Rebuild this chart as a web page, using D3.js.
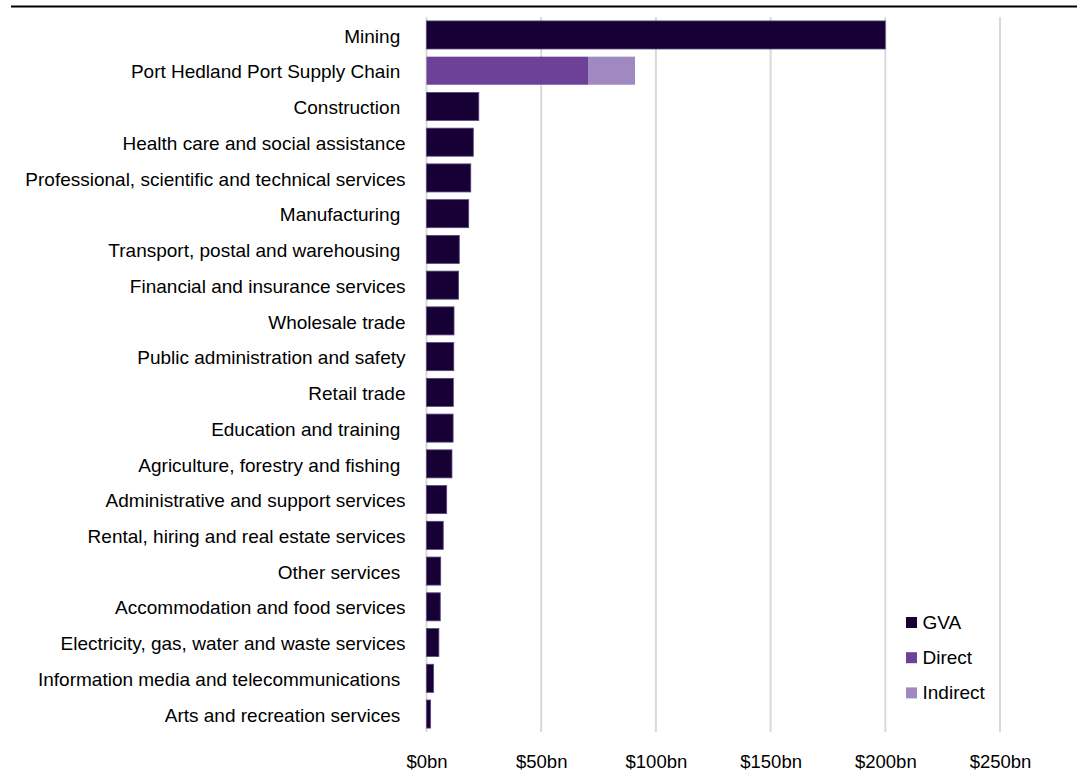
<!DOCTYPE html>
<html>
<head>
<meta charset="utf-8">
<script src="https://cdn.jsdelivr.net/npm/d3@7"></script>
<style>
  html, body { margin: 0; padding: 0; background: #fff; }
  svg { display: block; font-family: "Liberation Sans", Arial, sans-serif; }
  text { white-space: pre; }
</style>
</head>
<body>
<svg id="chart" width="1077" height="774"></svg>
<script>
// Industry categories (some labels carry a trailing space, as typeset)
const categories = [
  "Mining ",
  "Port Hedland Port Supply Chain ",
  "Construction ",
  "Health care and social assistance",
  "Professional, scientific and technical services",
  "Manufacturing ",
  "Transport, postal and warehousing ",
  "Financial and insurance services",
  "Wholesale trade",
  "Public administration and safety",
  "Retail trade",
  "Education and training ",
  "Agriculture, forestry and fishing ",
  "Administrative and support services",
  "Rental, hiring and real estate services",
  "Other services ",
  "Accommodation and food services",
  "Electricity, gas, water and waste services",
  "Information media and telecommunications ",
  "Arts and recreation services "
];

// Gross value added by industry, $bn
const gva = [200.0, 0, 22.8, 20.4, 19.3, 18.4, 14.3, 14.0, 12.0, 11.9,
             11.7, 11.6, 11.1, 8.8, 7.3, 6.2, 6.0, 5.4, 3.1, 1.8];
// Port supply chain contribution split, $bn
const direct   = [0, 70.4, 0, 0, 0, 0, 0, 0, 0, 0, 0, 0, 0, 0, 0, 0, 0, 0, 0, 0];
const indirect = [0, 20.5, 0, 0, 0, 0, 0, 0, 0, 0, 0, 0, 0, 0, 0, 0, 0, 0, 0, 0];

const seriesNames = ["GVA", "Direct", "Indirect"];
const seriesColors = ["#170033", "#6c4197", "#9f89c0"];
const tickValues = [0, 50, 100, 150, 200, 250];
const tickLabels = ["$0bn", "$50bn", "$100bn", "$150bn", "$200bn", "$250bn"];

const rows = categories.map((c, i) => ({
  category: c, GVA: gva[i], Direct: direct[i], Indirect: indirect[i]
}));

const svg = d3.select("#chart");
const margin = { left: 426.5, right: 77, top: 17, bottom: 42 };
const W = 1077, H = 774;
const FONT = "'Liberation Sans', Arial, sans-serif";

const x = d3.scaleLinear().domain([0, 250]).range([margin.left, W - margin.right]);
const y = d3.scaleBand().domain(categories).range([margin.top, H - margin.bottom])
  .paddingInner(0.215).paddingOuter(0.11);

// Top rule
svg.append("line")
  .attr("x1", 11).attr("x2", W).attr("y1", 6.5).attr("y2", 6.5)
  .attr("stroke", "#000").attr("stroke-width", 2.2);

// Vertical gridlines
svg.append("g").selectAll("line").data(tickValues).join("line")
  .attr("x1", d => x(d)).attr("x2", d => x(d))
  .attr("y1", margin.top).attr("y2", H - margin.bottom)
  .attr("stroke", "#d9d9d9").attr("stroke-width", 2);

// Stacked bars
const stack = d3.stack().keys(seriesNames)(rows);
svg.append("g").selectAll("g").data(stack).join("g")
  .attr("fill", (d, i) => seriesColors[i])
  .selectAll("rect").data(d => d.filter(p => p[1] - p[0] > 0)).join("rect")
  .attr("x", d => x(d[0]))
  .attr("y", d => y(d.data.category))
  .attr("width", d => x(d[1]) - x(d[0]))
  .attr("height", y.bandwidth())
  .attr("stroke", function () { return d3.select(this.parentNode).datum().key === "GVA" ? "#5b4880" : "none"; })
  .attr("stroke-width", 0.8);

// Category labels
const yAxis = d3.axisLeft(y).tickSize(0).tickPadding(0);
const ya = svg.append("g").attr("transform", `translate(405.5,1)`).call(yAxis);
ya.select(".domain").remove();
ya.selectAll("text")
  .attr("font-family", FONT)
  .attr("font-size", 19).attr("fill", "#000").attr("dy", "0.35em");

// Value axis labels
const xAxis = d3.axisBottom(x).tickValues(tickValues)
  .tickFormat((d, i) => tickLabels[i]).tickSize(0).tickPadding(0);
const xa = svg.append("g").attr("transform", `translate(0,767.5)`).call(xAxis);
xa.select(".domain").remove();
xa.selectAll("text")
  .attr("font-family", FONT)
  .attr("font-size", 18.5).attr("fill", "#000").attr("dy", "0");

// Legend
const legend = svg.append("g").attr("transform", "translate(906,617)");
const li = legend.selectAll("g").data(seriesNames).join("g")
  .attr("transform", (d, i) => `translate(0,${i * 35.2})`);
li.append("rect").attr("width", 11).attr("height", 11)
  .attr("fill", (d, i) => seriesColors[i]);
li.append("text").attr("x", 16.5).attr("y", 12)
  .attr("font-family", FONT)
  .attr("font-size", 19).attr("fill", "#000").text(d => d);
</script>
</body>
</html>
